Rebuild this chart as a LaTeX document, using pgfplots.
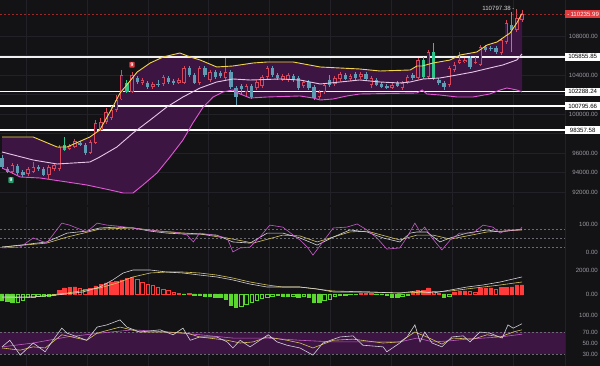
\documentclass[border=0pt]{standalone}
\usepackage{pgfplots}
\pgfplotsset{compat=1.18}
\usepackage{pgfplotstable}
\usepackage{fontspec}
\setmainfont{Liberation Sans}

\definecolor{bg}{HTML}{131316}
\definecolor{gridc}{HTML}{212127}
\definecolor{band}{HTML}{3C1542}
\definecolor{upc}{HTML}{D8465A}
\definecolor{dnc}{HTML}{5E9CB4}
\definecolor{grc}{HTML}{2FC48C}
\definecolor{bup}{HTML}{F2D34A}
\definecolor{bmid}{HTML}{E6C6E6}
\definecolor{blow}{HTML}{E356D6}
\definecolor{lblc}{HTML}{9A9AA2}
\definecolor{lk}{HTML}{D2D2DA}
\definecolor{ld}{HTML}{D6C45A}
\definecolor{lj}{HTML}{C45CC8}
\definecolor{hred}{HTML}{FF3B3B}
\definecolor{hgrn}{HTML}{5AD82E}
\definecolor{pricered}{HTML}{E0393E}
\definecolor{dashc}{HTML}{6A6A72}

\newcommand\lbl{\fontsize{6.1}{7}\selectfont}

\pgfplotstableread{
i t o h l c
0 0 95483 95791 94355 94560
1 0 94355 94560 93944 94047
2 1 94047 94970 93842 94765
3 0 94662 94868 93739 93944
4 0 94047 94252 93534 93739
5 1 93842 94560 93636 94355
6 1 94047 95073 93944 94560
7 0 94560 94765 94149 94355
8 0 94355 94560 93636 93739
9 1 93739 94765 93329 94560
10 1 94355 94970 94149 94765
11 1 94355 96817 94149 96612
12 2 96817 97638 96201 96304
13 1 96407 96920 96304 96714
14 1 96612 97433 96509 97227
15 0 97022 97227 96714 96817
16 0 96817 97022 95791 95996
17 1 95996 97330 95894 97125
18 1 97022 99382 96920 99074
19 1 98356 99587 98253 99177
20 1 99177 100613 98972 100203
21 1 99587 100818 99382 100408
22 1 100408 101947 100203 101434
23 1 101500 104512 101400 103999
24 2 103178 103486 102152 102255
25 1 102255 104307 102152 103999
26 0 103691 103896 103076 103281
27 1 103178 103691 102973 103486
28 0 103178 103383 102563 102768
29 1 102768 103281 102563 103076
30 0 103076 103486 102768 102973
31 1 103076 103999 102870 103794
32 0 103691 103896 103076 103281
33 0 103383 103589 102973 103178
34 1 103178 103691 103076 103486
35 1 103178 104922 103076 104717
36 0 104717 104922 103794 103999
37 0 103999 104204 103076 103178
38 1 103178 104922 102973 104717
39 0 104717 104922 103794 103999
40 1 103486 104512 103281 104307
41 0 104307 104512 103589 103794
42 0 104204 104409 103691 103896
43 1 103691 105743 103486 104307
44 0 104307 104512 102563 102768
45 0 102665 102870 100921 101742
46 0 102870 103076 101947 102563
47 1 102255 103076 101742 102870
48 0 102870 103076 101537 101742
49 1 102665 103486 102460 103281
50 1 102870 103999 102665 103794
51 1 103794 104922 103589 104717
52 0 104717 104922 103794 103999
53 0 103999 104204 103486 103691
54 1 103486 104102 103383 103896
55 1 103486 104204 103281 103999
56 0 103896 104102 103281 103486
57 0 103691 103896 102460 102665
58 1 102870 103486 102665 103281
59 0 103281 103486 102460 102665
60 0 102768 102973 101434 101639
61 1 101742 102460 101537 102255
62 1 102255 103178 102050 102973
63 0 103486 103999 102768 102973
64 1 103076 103896 102870 103691
65 1 103589 104307 103383 104102
66 0 103999 104204 103486 103589
67 1 103589 104102 103383 103896
68 0 104102 104307 103486 103691
69 1 103794 104307 103589 104102
70 0 104102 104307 103383 103589
71 1 102973 103896 102665 103691
72 0 103486 103691 102870 102973
73 0 103076 103281 102665 102768
74 0 102870 103076 102563 102665
75 1 102665 103178 102563 102973
76 0 103178 103383 102768 102870
77 1 102665 103383 102460 103178
78 1 103281 103999 103076 103794
79 0 103999 104204 103486 103691
80 1 103691 105743 103589 105538
81 2 105538 105846 103589 103794
82 1 103794 106564 103589 106359
83 2 106359 107282 103486 103691
84 0 103486 103691 102973 103178
85 0 103178 103383 102460 102768
86 1 102973 104922 102768 104717
87 1 104512 105333 104307 105025
88 1 105230 106359 105128 105538
89 1 105333 105743 105230 105538
90 0 105743 105948 104615 104820
91 1 105230 105846 105128 105333
92 1 105025 107077 104922 106872
93 0 106872 107077 106359 106564
94 0 106769 106974 106461 106667
95 0 106769 106974 106154 106359
96 1 106256 107795 106051 107590
97 1 107385 109642 107180 109334
98 0 109129 110463 106359 108616
99 1 108616 110797 108411 109847
100 1 109642 110668 109437 110236
}\candles

\pgfplotstableread{
i v
0 97638
6 97638
10.6 96612
12.5 96612
16.9 97638
18.8 98356
21.3 100716
22.7 102152
24 102973
26 104307
28.5 105230
31 105846
34.2 106256
36.2 105846
38.1 105538
41.3 104820
44.4 104922
48.3 105230
51 105333
56 105333
61.2 104820
65 104717
68.8 104615
72.7 104409
78.5 104512
79.8 104922
80.8 104922
82.9 105230
86.2 105538
88.1 106051
91.3 106359
93.3 107077
95.2 107385
96.3 107795
97.7 108308
99 109334
100 110300
}\bbup

\pgfplotstableread{
i v
0 96099
6 95278
10.6 94868
16.9 95073
18.8 95586
22.1 96612
25.2 98048
28.5 99382
31.7 100716
34.8 101742
38.1 102665
41.3 103281
44.4 103589
47.7 103486
53.5 103589
57.3 103486
61.2 103076
65 103281
68.8 103486
72.7 103281
76.5 103178
78.5 103281
81 103589
84.2 103691
87.5 103999
90.6 104307
93.8 104717
96.3 105025
99 105538
100 106154
}\bbmid

\pgfplotstableread{
i v
0 94458
3.5 93534
7.3 93431
12.5 93021
16.3 92713
20.8 92200
23.3 91892
25.2 91892
27.1 92713
29.8 93944
32.3 95586
34.8 97330
36.7 99074
38.7 100716
40.6 101742
42.5 102255
44.4 102460
45.8 102050
47.7 101639
51 101742
57.3 101844
59.8 101639
61.2 101434
63.7 101537
66.3 101844
68.8 102050
79.8 102152
80.8 102460
81.7 102050
84.2 101947
87.5 101742
90.6 101742
93.8 102050
95.8 102460
97.1 102665
99 102460
100 102255
}\bblow

% band outline: upper band, then lower band backwards
\pgfplotstableread{
i v
0 97638
6 97638
10.6 96612
12.5 96612
16.9 97638
18.8 98356
21.3 100716
22.7 102152
24 102973
26 104307
28.5 105230
31 105846
34.2 106256
36.2 105846
38.1 105538
41.3 104820
44.4 104922
48.3 105230
51 105333
56 105333
61.2 104820
65 104717
68.8 104615
72.7 104409
78.5 104512
79.8 104922
80.8 104922
82.9 105230
86.2 105538
88.1 106051
91.3 106359
93.3 107077
95.2 107385
96.3 107795
97.7 108308
99 109334
100 110300
100 102255
99 102460
97.1 102665
95.8 102460
93.8 102050
90.6 101742
87.5 101742
84.2 101947
81.7 102050
80.8 102460
79.8 102152
68.8 102050
66.3 101844
63.7 101537
61.2 101434
59.8 101639
57.3 101844
51 101742
47.7 101639
45.8 102050
44.4 102460
42.5 102255
40.6 101742
38.7 100716
36.7 99074
34.8 97330
32.3 95586
29.8 93944
27.1 92713
25.2 91892
23.3 91892
20.8 92200
16.3 92713
12.5 93021
7.3 93431
3.5 93534
0 94458
}\bandpoly

\pgfplotstableread{
i v
0 16
3.5 19
6 51
8.6 33
11.5 103
13 96
16.3 72
18.3 103
20.2 96
22 93
25.2 86
27.9 79
30.4 75
33 72
34.2 68
35.6 61
36.8 37
38 68
40.6 61
43.3 51
44.4 2
45.8 16
47.7 19
49.6 54
51.5 96
54 89
56 61
57.3 44
58.7 19
59.8 -9
61.7 37
63.7 86
66.3 89
68.3 100
70.2 79
72.1 51
74 12
76.5 16
77.9 54
79.4 103
80.4 72
81.3 89
82.7 51
84.6 9
86.2 44
88 68
90.6 68
92.5 96
94.4 89
95.8 68
97.1 79
99.6 79
100 89
}\kdjJ

\pgfplotstableread{
i v
0 19
3.5 26
8.6 37
12.5 68
16.3 75
18.8 86
22.1 89
25.2 86
28.5 75
31.7 68
34.8 65
38 65
41.3 61
44.4 37
47.7 33
51 68
54 68
57.3 51
60.6 26
63.7 54
66.9 79
70.2 72
73.3 51
76.5 37
78.5 68
79.8 72
81.7 72
84.2 37
86.2 51
89.4 68
93.3 79
95.8 72
100 82
}\kdjK

\pgfplotstableread{
i v
0 19
8.6 33
12.5 54
18.8 82
25.2 86
31.7 72
38 65
44.4 47
48.3 33
54 61
57.3 58
60.6 37
66.9 72
70.2 75
76.5 44
79.8 61
82.9 61
86.2 47
89.4 58
93.3 72
100 79
}\kdjD

\pgfplotstableread{
i v s
0 -500 3
1 -600 3
2 -670 3
3 -650 4
4 -550 4
5 -250 4
6 -230 4
7 -200 4
8 -180 4
9 -150 4
10 -120 4
11 330 1
12 500 1
13 580 1
14 600 1
15 500 2
16 420 2
17 450 1
18 670 1
19 830 1
20 920 1
21 1000 1
22 1080 1
23 1170 1
24 1330 1
25 1380 1
26 1250 2
27 1020 2
28 850 2
29 700 2
30 550 2
31 420 2
32 330 2
33 170 2
34 80 2
35 -40 3
36 30 1
37 -80 3
38 -120 3
39 -170 3
40 -200 3
41 -250 3
42 -300 3
43 -420 3
44 -920 3
45 -1080 3
46 -1000 4
47 -830 4
48 -670 4
49 -500 4
50 -330 4
51 -250 4
52 -170 4
53 -130 4
54 -170 3
55 -200 3
56 -170 4
57 -250 3
58 -200 4
59 -300 3
60 -670 3
61 -700 3
62 -500 4
63 -420 4
64 -150 4
65 -100 4
66 -80 4
67 -60 4
68 -40 4
69 40 1
70 50 1
71 30 2
72 -40 3
73 -60 3
74 -80 3
75 -250 3
76 -280 3
77 -200 4
78 -100 4
79 170 1
80 330 1
81 330 1
82 500 1
83 250 2
84 100 2
85 -250 3
86 -150 4
87 170 1
88 250 1
89 250 1
90 200 2
91 180 2
92 500 1
93 500 1
94 500 1
95 420 2
96 580 1
97 580 1
98 600 1
99 750 1
100 750 1
}\macdh

\pgfplotstableread{
i v
0 -250
6 -250
10.6 -80
15.6 170
18.8 580
21.3 1170
23.3 1750
25.2 2000
28.5 2000
31.7 1830
34.8 1750
38 1580
41.3 1420
44.4 1170
47.7 830
51 580
54 580
57.3 580
60.6 420
63.7 170
70.2 170
76.5 80
79.8 250
82.9 80
86.2 330
89.4 580
92.5 750
95.8 1000
100 1420
}\dif

\pgfplotstableread{
i v
0 -330
6 -250
12.5 80
18.8 500
22.1 910
25.2 1420
28.5 1750
31.7 1830
34.8 1830
38 1750
41.3 1580
44.4 1330
47.7 1000
51 750
54 580
57.3 580
63.7 250
70.2 170
76.5 80
82.9 170
86.2 250
89.4 420
92.5 580
95.8 750
100 1000
}\dea

\pgfplotstableread{
i v
0 43
1.5 55
3.5 28
6 50
8.3 34
9.8 55
11.5 77
12.5 68
16.3 55
18.3 79
20.2 83
22.7 92
24 79
26.5 70
30.4 74
32.9 65
34.8 77
36.2 55
38 61
41.3 61
43.3 52
44.4 41
45.8 55
47.7 43
49.6 55
51.2 65
52.9 52
54.8 46
57.3 41
59.8 28
61.7 50
65 61
67.5 63
69.4 46
73.3 43
74 34
76.5 50
77.9 61
79.4 83
80.4 52
81.3 70
82.7 50
84.6 43
86.5 61
88.7 63
90 52
91.9 70
93.8 68
96.2 59
97.3 83
98.3 77
100 85
}\rsiA

\pgfplotstableread{
i v
0 41
3.5 37
6 43
8.3 41
11.5 65
16.3 55
18.3 68
22.7 79
26.5 70
31.7 70
35.6 68
38 61
43.3 55
45.8 50
48.3 52
51 61
54.8 55
57.3 50
59.8 41
63.7 55
67.5 57
73.3 50
76.5 52
79.4 70
81.7 61
84.6 48
86.7 59
90.6 57
93.3 65
95.8 61
98.3 70
100 74
}\rsiB

\pgfplotstableread{
i v
0 43
6 50
12.5 61
18.8 68
25.2 74
31.7 70
38 65
44.4 59
51 59
57.3 55
63.7 52
70.2 52
76.5 52
79.8 59
82.9 52
86.2 54
89.4 57
95.8 61
100 66
}\rsiC

\pgfplotsset{
  panel/.style={scale only axis, width=565pt, xmin=-0.385, xmax=108.27,
    anchor=north west,
    axis line style={draw=none}, major tick length=0pt, tick style={draw=none},
    xtick={4.6,16.3,28.1,39.6,51.3,63.1,74.8,86.5,98.3}, xticklabels={},
    xmajorgrids, grid style={draw=gridc, line width=0.5pt},
    yticklabel pos=right,
    y tick label style={font=\lbl, text=lblc, anchor=east, xshift=33pt, inner sep=0pt},
    clip=false},
  wick/.style={draw=none, mark=none, error bars/y dir=both, error bars/y explicit,
    error bars/error mark=none,
    error bars/error bar style={draw=#1, line width=0.7pt}},
  body/.style={draw=none, mark=none, error bars/y dir=plus, error bars/y explicit,
    error bars/error mark=none,
    error bars/error bar style={draw=#1, line width=3.4pt}},
  inner/.style={draw=none, mark=none, error bars/y dir=plus, error bars/y explicit,
    error bars/error mark=none,
    error bars/error bar style={draw=band, line width=2.0pt}},
}
\tikzset{
  levbox/.style={fill=white, text=black, font=\lbl, anchor=west, minimum width=35pt,
    minimum height=8pt, inner sep=0.5pt},
}

\begin{document}
\begin{tikzpicture}
\fill[bg] (0,0) rectangle (600pt,366pt);
\useasboundingbox (0,0) rectangle (600pt,366pt);
\draw[gridc, line width=0.6pt] (565pt,0) -- (565pt,366pt);

% ---------------- main price panel
\begin{axis}[panel, at={(0pt,366pt)}, height=205pt, ymin=90661, ymax=111694,
  ytick={92000,94000,96000,98000,100000,102000,104000,106000,108000},
  yticklabels={92000.00,94000.00,96000.00,,100000.00,,104000.00,,108000.00},
  ymajorgrids]
\addplot[fill=band, draw=none] table[x=i, y=v] {\bandpoly};
% level lines
\addplot[white!88!gray, line width=1.5pt] coordinates {(-0.385,105855.85) (108.27,105855.85)};
\addplot[white, line width=1.5pt] coordinates {(-0.385,102288.24) (108.27,102288.24)};
\addplot[white, line width=1.5pt] coordinates {(-0.385,100795.66) (108.27,100795.66)};
\addplot[white, line width=1.5pt] coordinates {(-0.385,98357.58) (108.27,98357.58)};
\addplot[pricered!70!black, line width=0.6pt, dash pattern=on 2pt off 2pt] coordinates {(-0.385,110235.99) (108.27,110235.99)};
% candles: wicks
\addplot[restrict expr to domain={\thisrow{t}}{-0.5:0.5}, wick=dnc]
  table[x=i, y=o, y error plus expr=\thisrow{h}-\thisrow{o}, y error minus expr=\thisrow{o}-\thisrow{l}] {\candles};
\addplot[restrict expr to domain={\thisrow{t}}{0.5:1.5}, wick=upc]
  table[x=i, y=o, y error plus expr=\thisrow{h}-\thisrow{o}, y error minus expr=\thisrow{o}-\thisrow{l}] {\candles};
\addplot[restrict expr to domain={\thisrow{t}}{1.5:2.5}, wick=grc]
  table[x=i, y=o, y error plus expr=\thisrow{h}-\thisrow{o}, y error minus expr=\thisrow{o}-\thisrow{l}] {\candles};
% bodies
\addplot[restrict expr to domain={\thisrow{t}}{-0.5:0.5}, body=dnc]
  table[x=i, y expr={min(\thisrow{o},\thisrow{c})}, y error plus expr={max(abs(\thisrow{c}-\thisrow{o}),60)}] {\candles};
\addplot[restrict expr to domain={\thisrow{t}}{1.5:2.5}, body=grc]
  table[x=i, y expr={min(\thisrow{o},\thisrow{c})}, y error plus expr={max(abs(\thisrow{c}-\thisrow{o}),60)}] {\candles};
\addplot[restrict expr to domain={\thisrow{t}}{0.5:1.5}, body=upc]
  table[x=i, y expr={min(\thisrow{o},\thisrow{c})}, y error plus expr={max(abs(\thisrow{c}-\thisrow{o}),60)}] {\candles};
\addplot[restrict expr to domain={\thisrow{t}}{0.5:1.5}, inner]
  table[x=i, y expr={min(\thisrow{o},\thisrow{c})+72}, y error plus expr={max(abs(\thisrow{c}-\thisrow{o})-144,0)}] {\candles};
% bands
\addplot[bmid, line width=0.9pt] table[x=i, y=v] {\bbmid};
\addplot[blow, line width=0.9pt] table[x=i, y=v] {\bblow};
\addplot[bup, line width=0.9pt] table[x=i, y=v] {\bbup};
% labels
\node[levbox] at (axis cs:108.27,105855.85) {105855.85};
\node[levbox] at (axis cs:108.27,102288.24) {102288.24};
\node[levbox] at (axis cs:108.27,100795.66) {100795.66};
\node[levbox] at (axis cs:108.27,98357.58) {98357.58};
\node[levbox, fill=pricered, text=white] at (axis cs:108.27,110235.99) {\,-\,110235.99};
\node[font=\lbl, text=white!85!black, anchor=east, inner sep=0pt] at (axis cs:98.6,110797.38) {110797.38 -};
\node[fill=pricered, text=white, font=\fontsize{5}{5}\selectfont\bfseries, inner sep=1.2pt, rounded corners=0.8pt] at (axis cs:25,105050) {9};
\node[fill=grc!80!black, text=white, font=\fontsize{5}{5}\selectfont\bfseries, inner sep=1.2pt, rounded corners=0.8pt] at (axis cs:1.73,93226) {9};
\end{axis}

% ---------------- KDJ panel
\begin{axis}[panel, at={(0pt,159pt)}, height=51pt, ymin=-19.3, ymax=159.6,
  ytick={0,100}, yticklabels={0.00,100.00}]
\addplot[dashc, line width=0.5pt, dash pattern=on 2pt off 2pt] coordinates {(-0.385,80) (108.27,80)};
\addplot[dashc, line width=0.5pt, dash pattern=on 2pt off 2pt] coordinates {(-0.385,50) (108.27,50)};
\addplot[dashc, line width=0.5pt, dash pattern=on 2pt off 2pt] coordinates {(-0.385,20) (108.27,20)};
\addplot[ld, line width=0.6pt] table[x=i, y=v] {\kdjD};
\addplot[lk, line width=0.6pt] table[x=i, y=v] {\kdjK};
\addplot[lj, line width=0.6pt] table[x=i, y=v] {\kdjJ};
\end{axis}

% ---------------- MACD panel
\begin{axis}[panel, at={(0pt,108pt)}, height=54pt, ymin=-1500, ymax=3000,
  ytick={0,2000}, yticklabels={0.00,2000.00}]
\addplot[ybar, bar width=3.4pt, bar shift=0pt, fill=hred, draw=hred, line width=0.5pt,
  restrict expr to domain={\thisrow{s}}{0.5:1.5}] table[x=i, y=v] {\macdh};
\addplot[ybar, bar width=3.4pt, bar shift=0pt, fill=none, draw=hred, line width=0.5pt,
  restrict expr to domain={\thisrow{s}}{1.5:2.5}] table[x=i, y=v] {\macdh};
\addplot[ybar, bar width=3.4pt, bar shift=0pt, fill=hgrn, draw=hgrn, line width=0.5pt,
  restrict expr to domain={\thisrow{s}}{2.5:3.5}] table[x=i, y=v] {\macdh};
\addplot[ybar, bar width=3.4pt, bar shift=0pt, fill=none, draw=hgrn, line width=0.5pt,
  restrict expr to domain={\thisrow{s}}{3.5:4.5}] table[x=i, y=v] {\macdh};
\addplot[ld, line width=0.6pt] table[x=i, y=v] {\dea};
\addplot[lk, line width=0.6pt] table[x=i, y=v] {\dif};
\end{axis}

% ---------------- RSI panel
\begin{axis}[panel, at={(0pt,54pt)}, height=54pt, ymin=8.2, ymax=106.4,
  ytick={30,50,70,100}, yticklabels={30.00,50.00,70.00,100.00}]
\addplot[fill=band, draw=none] coordinates {(-0.385,30) (108.27,30) (108.27,70) (-0.385,70) (-0.385,30)};
\addplot[dashc, line width=0.5pt, dash pattern=on 2pt off 2pt] coordinates {(-0.385,70) (108.27,70)};
\addplot[dashc, line width=0.5pt, dash pattern=on 2pt off 2pt] coordinates {(-0.385,30) (108.27,30)};
\addplot[lj, line width=0.6pt] table[x=i, y=v] {\rsiC};
\addplot[ld, line width=0.6pt] table[x=i, y=v] {\rsiB};
\addplot[lk, line width=0.6pt] table[x=i, y=v] {\rsiA};
\end{axis}
\end{tikzpicture}
\end{document}
